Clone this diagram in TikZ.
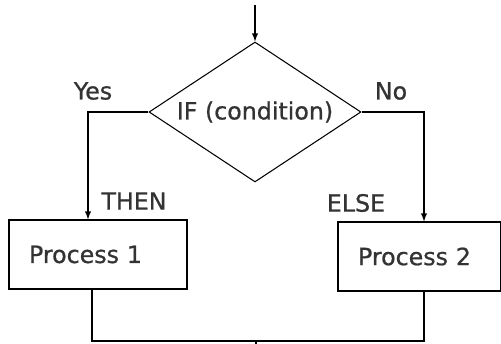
\documentclass[tikz,border=0pt]{standalone}
\usepackage{fontspec}
\setmainfont{DejaVu Sans}
\newfontfamily\diafont[FakeBold=0.8]{DejaVu Sans}
\usetikzlibrary{shapes,arrows,positioning}
\definecolor{txtgray}{rgb}{0.2,0.2,0.2}

\begin{document}
\begin{tikzpicture}[x=0.02cm,y=-0.02cm,line width=0.6pt,
  txt/.style={text=txtgray,font=\diafont\fontsize{13.5}{16}\selectfont,inner sep=0pt},
  decision/.style={diamond,draw,txt,aspect=1.514,minimum width=4.24cm,minimum height=2.8cm,inner sep=0pt},
  process/.style={rectangle,draw,txt,minimum height=1.38cm,inner xsep=0.4cm,align=left},
  flow/.style={-latex}]
            \useasboundingbox (0,0) rectangle (501,344);
            \coordinate (start) at (255,5);
            \node[decision] (cond) at (255,112) {IF (condition)};
            \node[process,text width=2.76cm] (proc1) at (98,254.5) {Process 1};
            \node[process,text width=2.46cm] (proc2) at (419.5,256.5) {Process 2};
            \coordinate (yes) at (88,112);
            \coordinate (no) at (424,112);
            \coordinate (left) at (92,341);
            \coordinate (right) at (424,341);
            \coordinate (merge) at (256,341);
            \coordinate (out) at (256,344);

            \draw[flow] (start) -- (cond.north);
            \draw[flow] (cond.west) -- (yes) -- (yes |- proc1.north);
            \draw[flow] (cond.east) -- (no) -- (no |- proc2.north);
            \draw (left |- proc1.south) -- (left) -- (right) -- (right |- proc2.south);
            \draw (merge) -- (out);

            \node[txt] (yeslbl) at (93,91) {Yes};
            \node[txt] (nolbl) at (391,91) {No};
            \node[txt] (thenlbl) at (134,201) {THEN};
            \node[txt] (elselbl) at (356,203) {ELSE};
\end{tikzpicture}
\end{document}
